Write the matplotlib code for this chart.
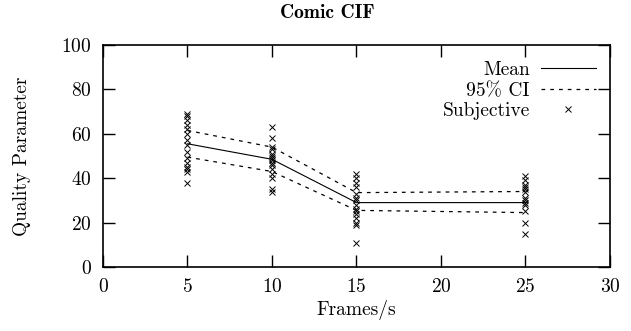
import matplotlib
matplotlib.use("Agg")
import matplotlib.pyplot as plt

# frame rates and summary stats
fps = [5, 10, 15, 25]
mean = [55.5, 48.5, 29.0, 29.0]
ci_hi = [61.5, 54.0, 33.5, 34.0]
ci_lo = [49.5, 43.0, 25.5, 24.5]

# individual subjective scores per frame rate
subj_5 = [69, 68, 66, 64, 62, 60, 57, 55, 52, 49, 47, 45, 44, 43, 38]
subj_10 = [63, 58, 54, 53, 51, 50, 49, 48, 47, 46, 44, 42, 40, 35, 34]
subj_15 = [42, 40, 38, 36, 33, 31, 30, 28, 26, 25, 24, 22, 20, 19, 11]
subj_25 = [41, 39, 37, 36, 35, 34, 31, 30, 29, 28, 25, 20, 15]

plt.rcParams["font.family"] = ["cmr10", "DejaVu Serif"]
plt.rcParams["axes.formatter.use_mathtext"] = True
plt.rcParams["mathtext.fontset"] = "cm"

FS = 14

fig = plt.figure(figsize=(6.31, 3.31), dpi=100)
ax = fig.add_axes([0.1632, 0.1934, 0.8035, 0.6707])

ax.plot(fps, mean, color="black", lw=0.8, label="Mean")
ax.plot(fps, ci_hi, color="black", lw=0.9, ls=(0, (3, 4)), label="95% CI")
ax.plot(fps, ci_lo, color="black", lw=0.9, ls=(0, (3, 4)))

xs, ys = [], []
for f, vals in zip(fps, [subj_5, subj_10, subj_15, subj_25]):
    xs += [f] * len(vals)
    ys += vals
ax.plot(xs, ys, ls="none", marker="x", ms=4.5, mew=0.7, color="black",
        label="Subjective")

ax.set_xlim(0, 30)
ax.set_ylim(0, 100)
ax.set_xticks(range(0, 31, 5))
ax.set_yticks(range(0, 101, 20))
ax.tick_params(direction="in", length=8.5, width=1.0, top=True, right=True,
               labelsize=FS, pad=8)
for s in ax.spines.values():
    s.set_linewidth(1.2)

ax.set_xlabel("Frames/s", fontsize=FS, labelpad=3)
ax.set_ylabel("Quality Parameter", fontsize=FS, labelpad=22)
fig.text(0.518, 0.962, "Comic CIF", fontsize=FS, ha="center", va="center",
         fontfamily=["cmb10", "DejaVu Serif"])

ax.legend(loc="upper right", frameon=False, markerfirst=False, fontsize=FS,
          handlelength=2.85, labelspacing=0.13, borderaxespad=0.5,
          handletextpad=0.55, bbox_to_anchor=(1.007, 1.005))

fig.savefig("out.png", dpi=100)
